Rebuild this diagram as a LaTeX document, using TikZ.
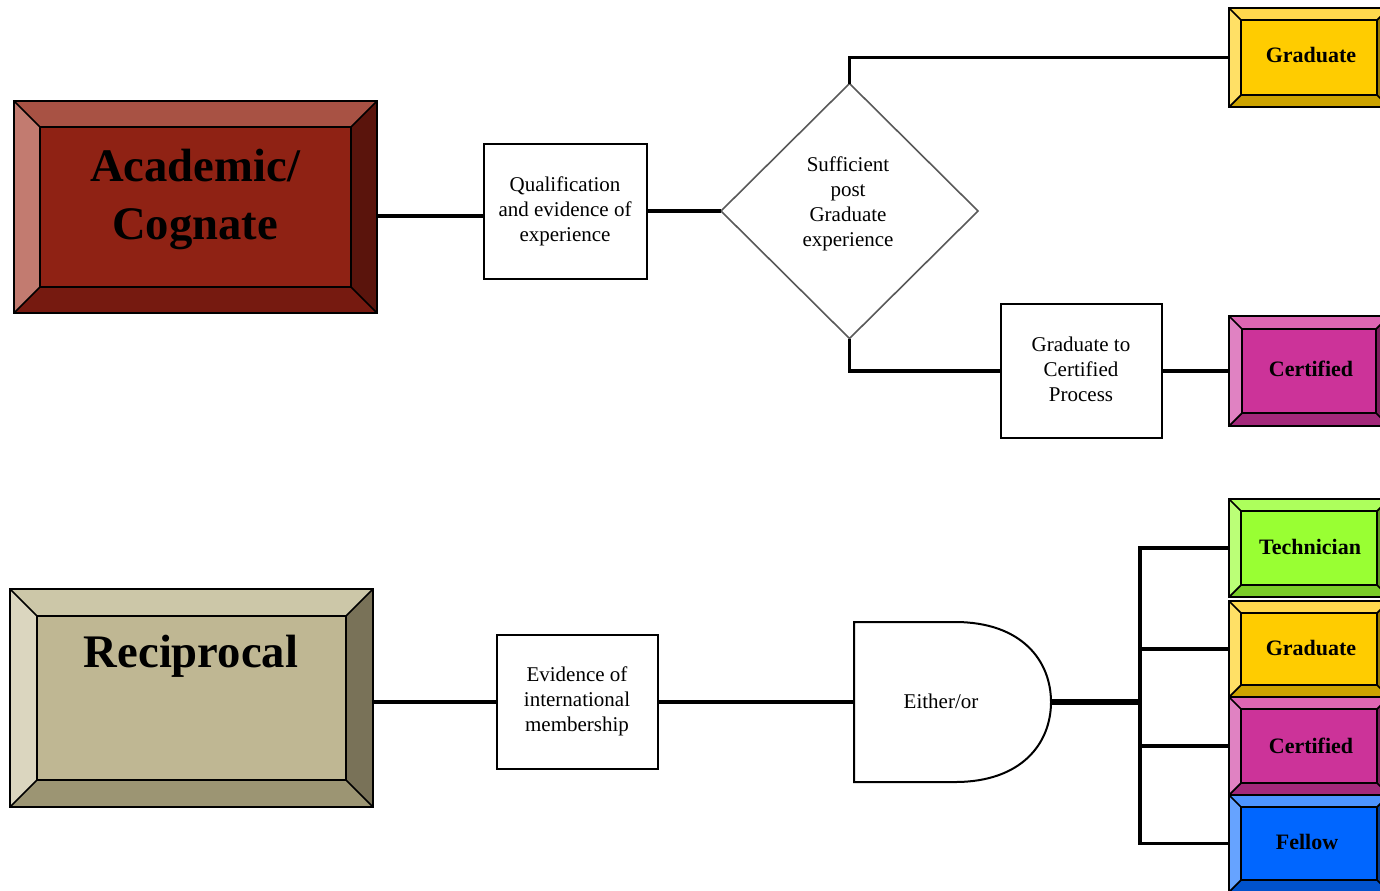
\documentclass[tikz,border=0pt]{standalone}
\usepackage{fontspec}
\setmainfont{Liberation Serif}
\usetikzlibrary{shapes.geometric}
% colour sets: face, top, left, bot, right
\definecolor{acface}{HTML}{8F2214}\definecolor{actop}{HTML}{A85244}\definecolor{acleft}{HTML}{C27B70}\definecolor{acbot}{HTML}{761A10}\definecolor{acright}{HTML}{5A140C}
\definecolor{reface}{HTML}{BFB793}\definecolor{retop}{HTML}{CCC7A8}\definecolor{releft}{HTML}{DBD6BF}\definecolor{rebot}{HTML}{9C9573}\definecolor{reright}{HTML}{797258}
\definecolor{gdface}{HTML}{FFCC00}\definecolor{gdtop}{HTML}{FFD84D}\definecolor{gdleft}{HTML}{FFE066}\definecolor{gdbot}{HTML}{CCA300}\definecolor{gdright}{HTML}{997A00}
\definecolor{ceface}{HTML}{CC3399}\definecolor{cetop}{HTML}{DD66B3}\definecolor{celeft}{HTML}{E082C2}\definecolor{cebot}{HTML}{A3287A}\definecolor{ceright}{HTML}{7A1E5C}
\definecolor{tcface}{HTML}{99FF33}\definecolor{tctop}{HTML}{ADFF5C}\definecolor{tcleft}{HTML}{BBFF77}\definecolor{tcbot}{HTML}{7ACC29}\definecolor{tcright}{HTML}{5C991F}
\definecolor{flface}{HTML}{0066FF}\definecolor{fltop}{HTML}{4D94FF}\definecolor{flleft}{HTML}{66A3FF}\definecolor{flbot}{HTML}{0052CC}\definecolor{flright}{HTML}{003D99}
\tikzset{
  boxouter/.style={rectangle, inner sep=0pt, outer sep=0pt},
  bevline/.style={draw=black, line width=1.3pt},
  procbox/.style={rectangle, draw=black, line width=1.5pt, fill=white, inner sep=0pt, outer sep=0pt},
  diam/.style={diamond, draw=black!65, line width=1.2pt, fill=white, inner sep=0pt, outer sep=0pt},
  conn/.style={draw=black, line width=2.8pt},
  thickconn/.style={draw=black, line width=4.5pt},
  lbl/.style={align=center, font=\fontsize{15.75}{18.75}\selectfont, inner sep=0pt},
  big/.style={align=center, font=\fontsize{35}{43.5}\selectfont\bfseries, inner sep=0pt},
  tag/.style={font=\fontsize{16.5}{19}\selectfont\bfseries, inner sep=0pt},
}
\newcommand\bevbox[7]{% name x1 y1 x2 y2 bevel colourprefix
  \node[boxouter, minimum width={(#4-#2)*0.75pt}, minimum height={(#5-#3)*0.75pt}] (#1) at ({(#2+#4)/2},{(#3+#5)/2}) {};
  \fill[#7top] (#2,#3) -- (#4,#3) -- ({#4-#6},{#3+#6}) -- ({#2+#6},{#3+#6}) -- cycle;
  \fill[#7bot] (#2,#5) -- (#4,#5) -- ({#4-#6},{#5-#6}) -- ({#2+#6},{#5-#6}) -- cycle;
  \fill[#7left] (#2,#3) -- ({#2+#6},{#3+#6}) -- ({#2+#6},{#5-#6}) -- (#2,#5) -- cycle;
  \fill[#7right] (#4,#3) -- ({#4-#6},{#3+#6}) -- ({#4-#6},{#5-#6}) -- (#4,#5) -- cycle;
  \draw[bevline] (#2,#3) -- ({#2+#6},{#3+#6}) (#4,#3) -- ({#4-#6},{#3+#6})
                 (#2,#5) -- ({#2+#6},{#5-#6}) (#4,#5) -- ({#4-#6},{#5-#6});
  \draw[bevline, fill=#7face] ({#2+#6},{#3+#6}) rectangle ({#4-#6},{#5-#6});
  \draw[bevline] (#2,#3) rectangle (#4,#5);
}
\begin{document}
\begin{tikzpicture}[x=0.75pt, y=-0.75pt]
\useasboundingbox (0,0) rectangle (1380,890);
\clip (0,0) rectangle (1380,890);
\fill[white] (0,0) rectangle (1380,890);

% ---- top branch ----
\bevbox{acad}{14}{101}{377}{313}{26}{ac}
\node[big] (acadtxt) at (195,199) {Academic/\\Cognate};

\node[procbox, minimum width={163*0.75pt}, minimum height={135*0.75pt}] (qual) at (565.5,211) {};
\node[lbl] (qualtxt) at (565,211) {Qualification\\and evidence of\\experience};

\node[diam, minimum width={257*0.75pt}, minimum height={255*0.75pt}] (dec) at (849.5,211) {};
\node[lbl] (dectxt) at (848,204) {Sufficient\\post\\Graduate\\experience};

\node[procbox, minimum width={161*0.75pt}, minimum height={134*0.75pt}] (gtc) at (1081.5,371) {};
\node[lbl] (gtctxt) at (1081,369) {Graduate to\\Certified\\Process};

\bevbox{grad1}{1229}{8}{1389}{107}{12}{gd}
\node[tag] (grad1txt) at (1311,55) {Graduate};
\bevbox{cert1}{1229}{316}{1389}{426}{13}{ce}
\node[tag] (cert1txt) at (1311,369) {Certified};

\draw[conn] (acad.east |- 0,216) -- (qual.west |- 0,216);
\draw[conn] (qual.east) -- (dec.west);
\draw[conn] (dec.north) |- (grad1.west);
\draw[conn] (dec.south) |- (gtc.west);
\draw[conn] (gtc.east) -- (cert1.west);

% ---- bottom branch ----
\bevbox{recip}{10}{589}{373}{807}{27}{re}
\node[big] (reciptxt) at (191,656) {Reciprocal};

\node[procbox, minimum width={161*0.75pt}, minimum height={134*0.75pt}] (evid) at (577.5,702) {};
\node[lbl] (evidtxt) at (577,701) {Evidence of\\international\\membership};

\node[boxouter, minimum width={197*0.75pt}, minimum height={160*0.75pt}] (gate) at (952.5,702) {};
\draw[black, line width=1.5pt, fill=white]
  (gate.north west) -- (955,622) .. controls (1022,622) and (1051,661) .. (gate.east)
  .. controls (1051,743) and (1022,782) .. (955,782) -- (gate.south west) -- cycle;
\node[lbl] (gatetxt) at (941,701) {Either/or};

\bevbox{tech}{1229}{499}{1389}{597}{12}{tc}
\node[tag] (techtxt) at (1310,547) {Technician};
\bevbox{grad2}{1229}{601}{1389}{697}{12}{gd}
\node[tag] (grad2txt) at (1311,648) {Graduate};
\bevbox{cert2}{1229}{697}{1389}{795}{12}{ce}
\node[tag] (cert2txt) at (1311,746) {Certified};
\bevbox{fel}{1229}{795}{1389}{892}{12}{fl}
\node[tag] (feltxt) at (1307,842) {Fellow};

\coordinate (bus) at (1140,702);
\draw[conn] (recip.east |- evid.west) -- (evid.west);
\draw[conn] (evid.east) -- (gate.west);
\draw[conn] (tech.west) -| (bus) |- (fel.west);
\draw[conn] (bus) |- (grad2.west);
\draw[conn] (bus) |- (cert2.west);
\draw[thickconn] (gate.east) -- (bus);
\end{tikzpicture}
\end{document}
